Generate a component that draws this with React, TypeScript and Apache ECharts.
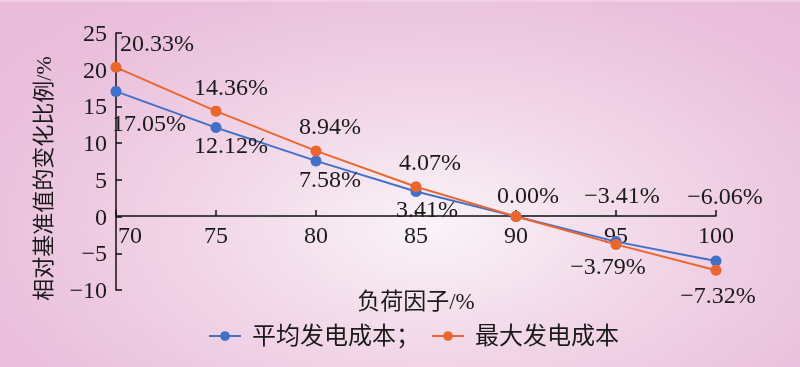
import React, { useEffect, useRef } from "react";
import * as echarts from "echarts";

const loadFactors = [70, 75, 80, 85, 90, 95, 100];
const avgCost = [17.05, 12.12, 7.58, 3.41, 0.0, -3.41, -6.06];
const maxCost = [20.33, 14.36, 8.94, 4.07, 0.0, -3.79, -7.32];
const seriesNames = ["平均发电成本", "最大发电成本"];
const yAxisName = "相对基准值的变化比例/%";
const xAxisName = "负荷因子/%";

const FONT = "'Liberation Serif', 'Noto Sans CJK SC', serif";
const BLUE = "#4270C8";
const ORANGE = "#E9672F";

const minus = (s: string) => s.replace(/-/g, "\u2212");

// label placement per point: [position, dx, dy, show]
const avgLabelPlace: [string, number, number, boolean][] = [
  ["bottom", 33, 9, true],
  ["bottom", 15, -5, true],
  ["bottom", 14, -4, true],
  ["bottom", 11, -5, true],
  ["top", 0, 0, false],
  ["top", 6, -24, true],
  ["top", 9, -43, true],
];
const maxLabelPlace: [string, number, number, boolean][] = [
  ["top", 41, -2, true],
  ["top", 15, -2, true],
  ["top", 14, -2, true],
  ["top", 14, -2, true],
  ["top", 12, 1, true],
  ["bottom", -8, -1, true],
  ["bottom", 2, 2, true],
];

function buildData(values: number[], place: [string, number, number, boolean][]) {
  return values.map((v, i) => ({
    value: [loadFactors[i], v],
    label: {
      show: place[i][3],
      position: place[i][0],
      offset: [place[i][1], place[i][2]],
      formatter: () => minus(v.toFixed(2)) + "%",
    },
  }));
}

export default function App() {
  const ref = useRef<HTMLDivElement>(null);
  useEffect(() => {
    if (!ref.current) return;
    const chart = echarts.init(ref.current, undefined, { renderer: "svg" });
    const labelStyle = { fontFamily: FONT, fontSize: 24, color: "#1a1a1a" };
    chart.setOption({
      animation: false,
      grid: { left: 116, right: 84, top: 33, bottom: 77, containLabel: false, outerBoundsMode: "none" },
      xAxis: {
        type: "value",
        min: 70,
        max: 100,
        interval: 5,
        position: "bottom",
        offset: -74,
        name: xAxisName,
        nameLocation: "middle",
        nameGap: 74,
        nameTextStyle: { fontFamily: FONT, fontSize: 23, color: "#1a1a1a" },
        axisLine: { onZero: false, lineStyle: { color: "#111", width: 1.5 } },
        axisTick: { show: true, inside: true, length: 6, lineStyle: { color: "#111", width: 1.5 } },
        splitLine: { show: false },
        axisLabel: {
          margin: 7,
          fontFamily: FONT,
          fontSize: 24,
          color: "#1a1a1a",
          formatter: (v: number) => (v === 70 ? "{a|" + v + "}" : String(v)),
          rich: { a: { fontFamily: FONT, fontSize: 24, color: "#1a1a1a", padding: [0, 0, 0, 28] } },
        },
      },
      yAxis: {
        type: "value",
        min: -10,
        max: 25,
        interval: 5,
        name: yAxisName,
        nameLocation: "middle",
        nameGap: 62,
        nameRotate: 90,
        nameTextStyle: { fontFamily: FONT, fontSize: 22, color: "#1a1a1a", padding: [0, 34, 0, 0] },
        axisLine: { show: true, onZero: false, lineStyle: { color: "#111", width: 1.5 } },
        axisTick: { show: true, inside: true, length: 6, lineStyle: { color: "#111", width: 1.5 } },
        splitLine: { show: false },
        axisLabel: {
          margin: 9,
          fontFamily: FONT,
          fontSize: 24,
          color: "#1a1a1a",
          formatter: (v: number) => minus(String(v)),
        },
      },
      legend: {
        left: 208,
        top: 324,
        padding: 0,
        itemWidth: 32,
        itemHeight: 12,
        itemGap: 11,
        data: seriesNames,
        formatter: (n: string) => (n === seriesNames[0] ? n + "；" : n),
        textStyle: { fontFamily: FONT, fontSize: 24, color: "#1a1a1a", padding: [0, 0, 0, 6] },
      },
      series: [
        {
          name: seriesNames[0],
          type: "line",
          data: buildData(avgCost, avgLabelPlace),
          symbol: "circle",
          symbolSize: 11,
          itemStyle: { color: BLUE },
          lineStyle: { color: BLUE, width: 2 },
          label: labelStyle,
          z: 2,
        },
        {
          name: seriesNames[1],
          type: "line",
          data: buildData(maxCost, maxLabelPlace),
          symbol: "circle",
          symbolSize: 11,
          itemStyle: { color: ORANGE },
          lineStyle: { color: ORANGE, width: 2 },
          label: labelStyle,
          z: 3,
        },
      ],
    });
    return () => chart.dispose();
  }, []);
  return (
    <div
      style={{
        position: "fixed",
        left: 0,
        top: 0,
        width: 800,
        height: 367,
        background:
          "linear-gradient(#f2cfe5, #f2cfe5) top / 100% 2px no-repeat, radial-gradient(ellipse 75% 90% at 54% 62%, #faf3f8 0%, #f1d5e7 40%, #eac0dc 75%, #e8bbd8 100%)",
      }}
    >
      <div ref={ref} style={{ width: 800, height: 367 }} />
    </div>
  );
}
